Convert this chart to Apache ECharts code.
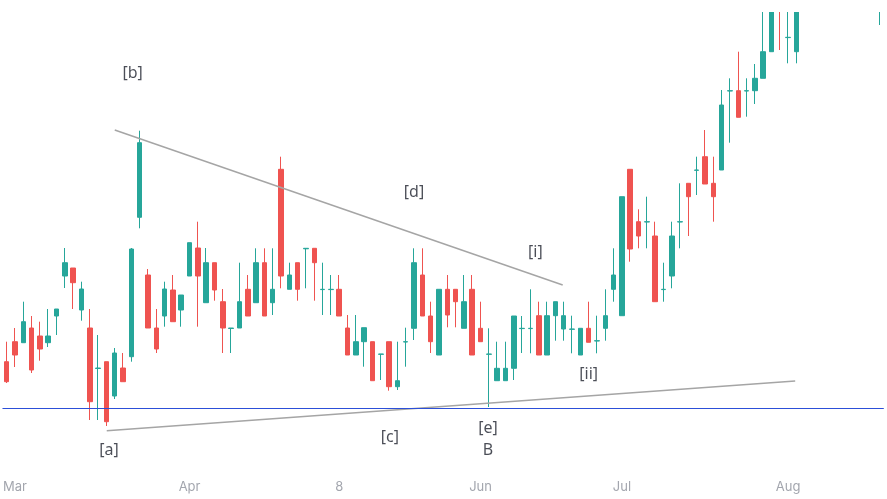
<!DOCTYPE html>
<html><head><meta charset="utf-8">
<script src="https://cdn.jsdelivr.net/npm/echarts@6/dist/echarts.min.js"></script>
<style>html,body{margin:0;padding:0;background:#fff}#c{width:887px;height:499px}</style>
</head><body><div id="c"></div>
<script>
// OHLC values (arbitrary price units), index = trading bar
const opens  = [20.06,24.06,23.86,26.8,25.2,23.86,29.2,37.2,38.8,30.4,26.8,18.7,20.06,13.2,18.8,21.06,48.94,37.4,26.8,29.2,34.4,30.4,37.2,42.8,31.86,39.86,32.06,26.7,26.8,34.54,31.86,39.86,31.86,58.54,34.54,39.86,42.64,42.74,34.48,34.48,34.54,26.8,21.4,24.06,24.06,21.54,24.06,15.06,24.0,26.74,37.4,29.2,21.4,34.54,34.54,26.74,34.54,26.74,21.54,16.26,16.26,18.74,26.68,26.68,29.26,21.4,29.26,26.6,26.54,21.4,26.74,24.2,26.74,34.54,29.26,58.54,48.06,48.0,45.2,34.48,37.2,48.0,55.74,58.34,61.06,55.74,58.4,74.2,74.26,74.2,74.26,76.74,82.06,98.4,84.88,82.06,'-','-','-','-','-','-','-','-','-',91.4];
const closes = [16.06,21.4,28.06,18.4,22.6,25.2,30.6,39.86,35.86,34.6,12.06,18.8,8.06,21.8,16.06,42.6,63.86,26.8,22.6,34.6,28.06,33.4,43.86,37.2,39.86,34.4,26.8,26.8,32.06,29.2,39.86,29.2,34.54,37.2,37.4,34.54,42.74,39.86,34.54,34.54,29.2,21.4,24.06,26.86,16.26,21.6,15.06,16.26,24.06,39.86,29.2,24.06,34.54,29.4,32.06,32.06,21.4,24.06,21.6,18.74,18.74,29.2,26.74,26.74,21.4,29.26,32.06,29.26,26.6,26.74,23.94,24.26,29.26,37.4,53.06,42.6,45.2,48.06,32.06,34.54,45.2,48.06,53.06,58.4,55.6,53.06,71.4,74.26,68.94,74.26,76.74,82.06,94.4,91.4,84.94,93.4,'-','-','-','-','-','-','-','-','-',94.4];
const lows   = [15.8,19.0,23.86,17.8,20.26,23.0,25.4,34.8,30.6,28.26,8.4,8.4,7.2,12.6,16.06,20.06,46.74,26.8,21.8,27.06,28.06,27.06,37.2,27.06,31.86,32.26,21.8,21.8,26.8,29.2,31.86,29.2,29.4,34.74,34.54,32.26,34.74,32.26,29.4,29.4,29.2,21.4,21.4,19.06,16.26,16.4,14.26,14.4,19.06,24.4,29.2,21.8,21.4,26.94,26.94,26.74,21.4,24.06,11.0,16.26,16.26,16.4,21.8,21.74,21.4,21.4,24.26,24.26,21.74,21.4,23.94,21.74,24.26,32.06,29.26,40.06,42.74,42.74,32.06,32.06,34.74,42.74,45.2,53.4,55.6,48.06,58.4,63.86,68.94,69.06,71.6,76.74,82.06,82.4,79.74,79.74,'-','-','-','-','-','-','-','-','-',87.4];
const highs  = [24.06,26.8,32.06,29.2,28.06,30.6,30.6,42.8,38.8,36.06,30.6,25.4,20.06,22.8,21.8,42.8,66.26,38.6,30.6,36.06,37.4,33.4,43.86,48.06,42.8,39.86,34.6,26.8,39.86,37.4,42.74,42.74,42.74,61.06,39.86,39.86,42.74,42.74,39.86,37.4,37.4,29.4,29.4,26.86,24.06,21.6,24.06,24.06,26.86,42.74,42.74,32.06,34.54,37.4,34.54,37.4,37.4,32.06,26.74,24.06,24.06,29.2,29.2,34.54,32.06,32.06,32.06,32.06,29.26,26.74,32.06,29.26,34.54,42.74,53.06,58.54,50.54,53.06,48.06,39.86,48.06,55.74,55.74,61.06,66.4,61.06,74.4,76.74,82.06,76.74,79.6,92.4,96.4,100.4,94.4,95.4,'-','-','-','-','-','-','-','-','-',96.4];

const tickIndex = [1, 22, 40, 57, 74, 94];
const tickText  = ['Mar', 'Apr', '8', 'Jun', 'Jul', 'Aug'];

const supportLevel = 10.8;
const upperTrend = [[13.0, 66.4], [66.88, 35.4]];
const lowerTrend = [[12.04, 6.26], [94.84, 16.2]];
const waveLabels = [
  [15.16, 77.8, '[b]'], [49.0, 54.0, '[d]'], [63.6, 42.0, '[i]'], [70.0, 17.6, '[ii]'],
  [12.3, 2.4, '[a]'], [46.1, 5.0, '[c]'], [57.9, 6.8, '[e]'], [57.9, 2.4, 'B']
];

const N = opens.length;
const categories = opens.map((_, i) => String(i));
const candles = opens.map((o, i) => o === '-' ? '-' : [o, closes[i], lows[i], highs[i]]);

const chart = echarts.init(document.getElementById('c'), null, {renderer: 'canvas'});
chart.setOption({
  animation: false,
  backgroundColor: '#ffffff',
  grid: {left: 0.5, right: 3.2, top: 12, bottom: 37},
  xAxis: [{
    type: 'category', data: categories, boundaryGap: true,
    axisLine: {show: false}, axisTick: {show: false}, splitLine: {show: false},
    axisLabel: {
      margin: 19, color: '#a3a6ae', fontSize: 13, fontFamily: 'Inter, "Noto Sans", sans-serif',
      interval: (idx) => tickIndex.includes(idx),
      formatter: (v, idx) => { const k = tickIndex.indexOf(Number(v)); return k >= 0 ? tickText[k] : ''; }
    }
  }, {
    type: 'value', min: -0.5, max: N - 0.5, show: false
  }],
  yAxis: {type: 'value', min: 0, max: 90, show: false, splitLine: {show: false}},
  graphic: [{
    type: 'rect', z: 100, silent: true,
    shape: {x: 0, y: 0, width: 887, height: 12},
    style: {fill: '#ffffff'}
  }],
  series: [{
    type: 'candlestick', data: candles, barWidth: 5, clip: true,
    itemStyle: {color: '#26a69a', color0: '#ef5350', borderColor: '#26a69a', borderColor0: '#ef5350', borderWidth: 1},
    markLine: {
      silent: true, symbol: 'none', label: {show: false},
      lineStyle: {color: '#2c4fd8', width: 1.2, type: 'solid'},
      data: [{yAxis: supportLevel}]
    }
  }, {
    type: 'line', xAxisIndex: 1, data: upperTrend, symbol: 'none',
    lineStyle: {color: '#a5a5a5', width: 1.5}
  }, {
    type: 'line', xAxisIndex: 1, data: lowerTrend, symbol: 'none',
    lineStyle: {color: '#a5a5a5', width: 1.5}
  }, {
    type: 'scatter', xAxisIndex: 1, symbolSize: 0,
    data: waveLabels.map(d => ({value: [d[0], d[1]], name: d[2]})),
    label: {show: true, position: 'inside', formatter: p => p.name, color: '#1e222d', fontSize: 16, fontFamily: '"Noto Sans", sans-serif'}
  }]
});
</script></body></html>
